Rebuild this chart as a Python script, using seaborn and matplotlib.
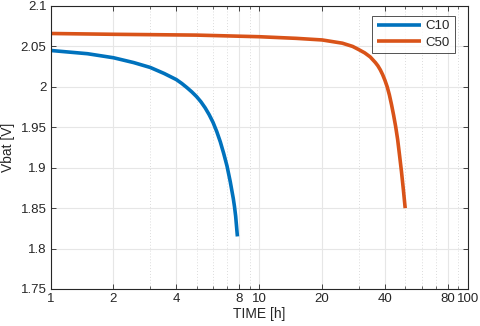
import numpy as np
import pandas as pd
import matplotlib
matplotlib.use("Agg")
import matplotlib.pyplot as plt
import seaborn as sns
from matplotlib.ticker import FixedLocator, NullFormatter, FixedFormatter

# Data
c10_time = [1, 1.5, 2, 2.5, 3, 3.5, 4, 4.25, 4.5, 4.75, 5, 5.25, 5.5, 5.75, 6,
            6.25, 6.5, 6.75, 7, 7.25, 7.5, 7.6, 7.7, 7.85]
c10_vbat = [2.045, 2.041, 2.036, 2.030, 2.024, 2.0165, 2.009, 2.0042, 1.999, 1.9937,
            1.988, 1.9815, 1.974, 1.9655, 1.956, 1.9447, 1.932, 1.9175, 1.902, 1.883,
            1.862, 1.852, 1.840, 1.815]
c50_time = [1, 2, 5, 10, 15, 20, 25, 28, 30, 32, 34, 36, 37, 38, 39, 40, 41, 42,
            43, 44, 45, 46, 47, 48, 49, 50]
c50_vbat = [2.066, 2.065, 2.064, 2.062, 2.060, 2.058, 2.054, 2.050, 2.046, 2.042,
            2.037, 2.030, 2.026, 2.021, 2.015, 2.008, 2.000, 1.990, 1.978, 1.965,
            1.951, 1.935, 1.915, 1.895, 1.873, 1.850]

series_names = ["C10", "C50"]
x_ticks = [1, 2, 4, 8, 10, 20, 40, 80, 100]
x_minor = [3, 5, 6, 7, 9, 30, 50, 60, 70, 90]
y_ticks = [1.75, 1.8, 1.85, 1.9, 1.95, 2.0, 2.05, 2.1]
y_tick_labels = ["1.75", "1.8", "1.85", "1.9", "1.95", "2", "2.05", "2.1"]

df = pd.concat([
    pd.DataFrame({"t": c10_time, "v": c10_vbat, "series": series_names[0]}),
    pd.DataFrame({"t": c50_time, "v": c50_vbat, "series": series_names[1]}),
], ignore_index=True)

sns.set_style("white")
plt.rcParams["font.family"] = ["Liberation Sans", "DejaVu Sans"]

fig = plt.figure(figsize=(4.8, 3.26), dpi=100)
ax = fig.add_axes([0.1056, 0.1135, 0.975 - 0.1056, 0.9816 - 0.1135])

palette = {"C10": "#0072BD", "C50": "#D95319"}
sns.lineplot(data=df, x="t", y="v", hue="series", palette=palette, ax=ax,
             linewidth=2.6, sort=False, estimator=None, legend=True)
for ln in ax.get_lines():
    ln.set_solid_joinstyle("round")
    ln.set_solid_capstyle("butt")

ax.set_xscale("log")
ax.set_xlim(1, 100)
ax.set_ylim(1.75, 2.1)

ax.xaxis.set_major_locator(FixedLocator(x_ticks))
ax.xaxis.set_major_formatter(FixedFormatter([str(v) for v in x_ticks]))
ax.xaxis.set_minor_locator(FixedLocator(x_minor))
ax.xaxis.set_minor_formatter(NullFormatter())
ax.yaxis.set_major_locator(FixedLocator(y_ticks))
ax.yaxis.set_major_formatter(FixedFormatter(y_tick_labels))

ax.grid(True, which="major", color="#e6e6e6", linewidth=0.8, linestyle="-")
ax.grid(True, which="minor", axis="x", color="#dcdcdc", linewidth=0.7, linestyle=(0, (1, 2)))
ax.set_axisbelow(True)

for s in ax.spines.values():
    s.set_visible(True)
    s.set_color("#262626")
    s.set_linewidth(0.8)

ax.tick_params(which="both", direction="in", top=True, right=True,
               bottom=True, left=True, colors="#262626", labelcolor="#262626",
               labelsize=9.5, pad=3)
ax.tick_params(which="major", length=3.5, width=0.6)
ax.tick_params(which="minor", length=2, width=0.5)

ax.set_xlabel("TIME [h]", fontsize=10, color="#262626", labelpad=1)
ax.set_ylabel("Vbat [V]", fontsize=10, color="#262626", labelpad=4)

leg = ax.legend(loc="upper right", bbox_to_anchor=(0.978, 0.98), frameon=True,
                fancybox=False, edgecolor="#262626", fontsize=9.5,
                handlelength=3.3, borderpad=0.35, labelspacing=0.3,
                handletextpad=0.4, borderaxespad=0.3)
leg.get_frame().set_linewidth(0.7)
for line in leg.get_lines():
    line.set_linewidth(2.6)

fig.savefig("out.png", dpi=100)
